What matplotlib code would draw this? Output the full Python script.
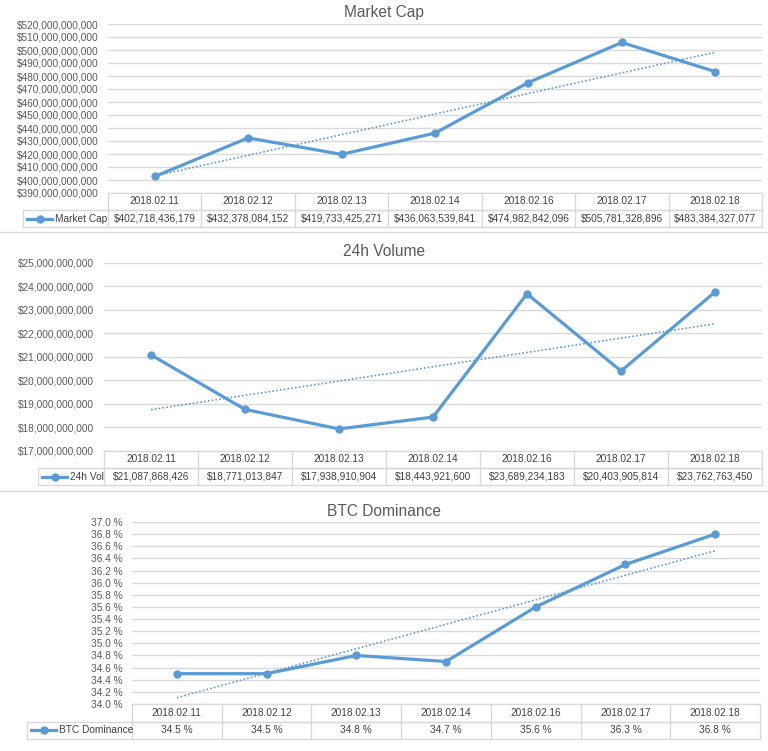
import numpy as np
import matplotlib
matplotlib.use('Agg')
import matplotlib.pyplot as plt
import matplotlib.transforms as mtransforms
from matplotlib.lines import Line2D
from matplotlib.ticker import FuncFormatter

plt.rcParams['font.family'] = ['Liberation Sans', 'DejaVu Sans']

# dati
dates = ['2018.02.11', '2018.02.12', '2018.02.13', '2018.02.14',
         '2018.02.16', '2018.02.17', '2018.02.18']
market_cap = [402718436179, 432378084152, 419733425271, 436063539841,
              474982842096, 505781328896, 483384327077]
volume_24h = [21087868426, 18771013847, 17938910904, 18443921600,
              23689234183, 20403905814, 23762763450]
btc_dominance = [34.5, 34.5, 34.8, 34.7, 35.6, 36.3, 36.8]

W, H = 768, 751
BLUE = '#5B9BD5'
GRID = '#D9D9D9'
TXT = '#595959'
FS = 7.3

fig = plt.figure(figsize=(W / 100, H / 100), dpi=100)


def px_axes(left, right, top, bottom):
    return fig.add_axes([left / W, 1 - bottom / H, (right - left) / W, (bottom - top) / H])


def fig_line(x0, x1, y0, y1, **kw):
    fig.add_artist(Line2D([x0 / W, x1 / W], [1 - y0 / H, 1 - y1 / H],
                          transform=fig.transFigure, **kw))


def panel(values, title, ticks, fmt, cell_fmt, legend, box, row_h, legend_left, title_y):
    left, right, top, bottom = box
    ax = px_axes(left, right, top, bottom)
    x = np.arange(len(values))
    vals = np.array(values, dtype=float)

    ax.plot(x, vals, color=BLUE, lw=2.3, marker='o', ms=5, zorder=3)
    # trendline lineare (come Excel)
    k, q = np.polyfit(x, vals, 1)
    ax.plot(x, k * x + q, color=BLUE, lw=1.2, ls=(0, (1, 1.3)), zorder=2)

    ax.set_xlim(-0.5, len(values) - 0.5)
    ax.set_ylim(ticks[0], ticks[-1])
    ax.set_yticks(ticks)
    ax.yaxis.set_major_formatter(FuncFormatter(fmt))
    ax.set_xticks([])
    ax.tick_params(axis='y', length=0, pad=7, labelsize=FS, labelcolor=TXT)
    ax.grid(axis='y', color=GRID, lw=1)
    ax.set_axisbelow(True)
    for s in ax.spines.values():
        s.set_visible(False)

    # tabella dati
    ax_h = bottom - top
    ax_w = right - left
    r1 = -row_h / ax_h
    r2 = -2 * row_h / ax_h
    tr = mtransforms.blended_transform_factory(ax.transData, ax.transAxes)
    lx = (legend_left - left) / ax_w
    lkw = dict(color=GRID, lw=1, clip_on=False)
    ax.plot([0, 1], [0, 0], transform=ax.transAxes, **lkw)
    ax.plot([0, 1], [r1, r1], transform=ax.transAxes, **lkw)
    ax.plot([lx, 1], [r1, r1], transform=ax.transAxes, **lkw)
    ax.plot([lx, 1], [r2, r2], transform=ax.transAxes, **lkw)
    ax.plot([lx, lx], [r1, r2], transform=ax.transAxes, **lkw)
    for e in np.arange(len(values) + 1) - 0.5:
        ax.plot([e, e], [0, r2], transform=tr, **lkw)
    for i, (d, v) in enumerate(zip(dates, values)):
        ax.text(i, r1 / 2, d, transform=tr, ha='center', va='center',
                fontsize=FS, color='#404040')
        ax.text(i, (r1 + r2) / 2, cell_fmt(v), transform=tr, ha='center',
                va='center', fontsize=FS, color='#404040')
    # cella legenda
    ym = (r1 + r2) / 2
    ax.plot([lx + 4 / ax_w, lx + 29 / ax_w], [ym, ym], transform=ax.transAxes,
            color=BLUE, lw=2.3, clip_on=False)
    ax.plot([lx + 16.5 / ax_w], [ym], transform=ax.transAxes, color=BLUE,
            marker='o', ms=5, clip_on=False)
    ax.text(lx + 32 / ax_w, ym, legend, transform=ax.transAxes, ha='left',
            va='center', fontsize=FS, color='#404040')

    fig.text(0.5, 1 - title_y / H, title, ha='center', va='center',
             fontsize=11.2, color=TXT)
    return ax


panel(market_cap, 'Market Cap', np.arange(390e9, 521e9, 10e9),
      lambda v, p: '${:,.0f}'.format(v), lambda v: '${:,.0f}'.format(v),
      'Market Cap', (108, 762, 24, 193), 17, 23, 12)

panel(volume_24h, '24h Volume', np.arange(17e9, 25.1e9, 1e9),
      lambda v, p: '${:,.0f}'.format(v), lambda v: '${:,.0f}'.format(v),
      '24h Vol', (104, 762, 263, 451), 17, 38, 252)

panel(btc_dominance, 'BTC Dominance', np.round(np.arange(34.0, 37.01, 0.2), 1),
      lambda v, p: '{:.1f} %'.format(v), lambda v: '{:.1f} %'.format(v),
      'BTC Dominance', (132, 760, 522, 704), 17.5, 27, 512)

# separatori tra i grafici
fig_line(0, W, 232, 232, color=GRID, lw=1)
fig_line(0, W, 491, 491, color=GRID, lw=1)

fig.savefig('out.png', dpi=100, facecolor='white')
